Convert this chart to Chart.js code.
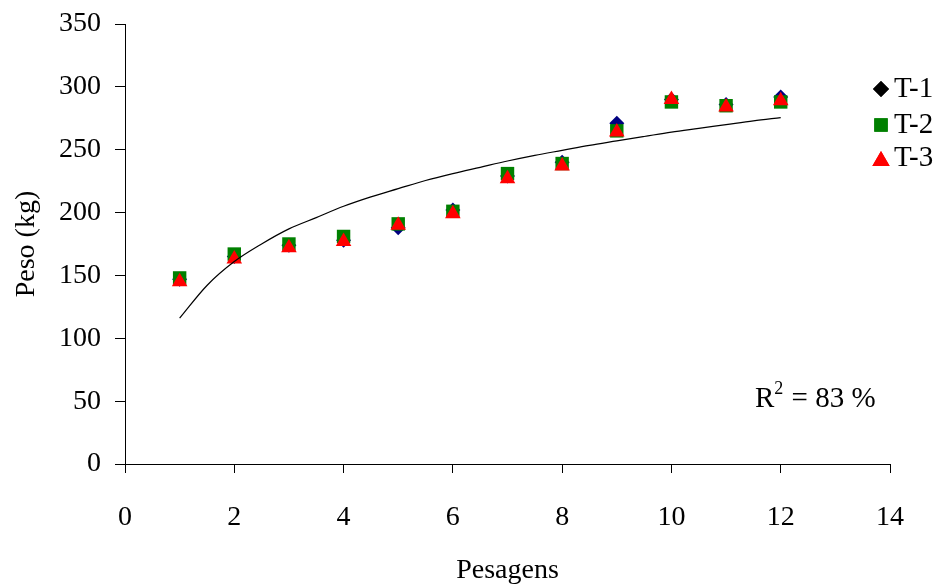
<!DOCTYPE html>
<html>
<head>
<meta charset="utf-8">
<script src="https://cdn.jsdelivr.net/npm/chart.js@4.4.1/dist/chart.umd.min.js"></script>
<style>
  body { margin: 0; background: #fff; }
  #mycanvas { display: block; }
</style>
</head>
<body>
<canvas id="mycanvas" width="947" height="587"></canvas>
<script>
// data
var pesagens = [1, 2, 3, 4, 5, 6, 7, 8, 9, 10, 11, 12];
var t1 = [147, 165, 174, 178, 188, 202, 229, 240, 271, 290, 286, 292];
var t2 = [148, 167, 175, 181, 191, 201, 231, 239, 265, 288, 285, 288];
var t3 = [145, 163, 172, 177, 190, 199, 227, 237, 264, 290, 284, 289];

// log trend line
var trendX = [1, 1.5, 2, 2.5, 3, 3.5, 4, 4.5, 5, 5.5, 6, 6.5, 7, 7.5, 8, 8.5, 9, 9.5, 10, 10.5, 11, 11.5, 12];
var trendY = [116, 142, 161, 175, 187, 196, 205, 212.5, 219, 225.5, 231, 236, 241, 245.5, 249.5, 253.5, 257, 260.5, 264, 267, 270, 273, 275.5];

var r2Text = '83 %';
var FONT = "'Liberation Serif', 'Times New Roman', serif";

function pts(xs, ys) {
    var out = [];
    for (var i in xs) {
        out.push({x: xs[i], y: ys[i]});
    }
    return out;
}

var series = [
    {label: 'T-1', data: t1, color: '#000080', legendColor: '#000000', style: 'rectRot', radius: 7.5, order: 3},
    {label: 'T-2', data: t2, color: '#008000', legendColor: '#008000', style: 'rect', radius: 9.5, order: 2},
    {label: 'T-3', data: t3, color: '#ff0000', legendColor: '#ff0000', style: 'triangle', radius: 9, order: 1}
];

var datasets = [];
for (var i in series) {
    var s = series[i];
    datasets.push({
        label: s.label,
        data: pts(pesagens, s.data),
        showLine: false,
        pointStyle: s.style,
        pointRadius: s.radius,
        pointBackgroundColor: s.color,
        pointBorderColor: s.color,
        pointBorderWidth: 0,
        order: s.order
    });
}
datasets.push({
    label: 'trend',
    data: pts(trendX, trendY),
    showLine: true,
    borderColor: '#000',
    borderWidth: 1.2,
    pointRadius: 0,
    cubicInterpolationMode: 'monotone',
    order: 0
});

// legend at right + R2 note
var extras = {
    id: 'extras',
    afterDraw: function (chart) {
        var ctx = chart.ctx;
        ctx.save();
        ctx.font = '29px ' + FONT;
        ctx.textBaseline = 'middle';
        ctx.textAlign = 'left';
        var ys = [89, 125, 158];
        for (var i in series) {
            var s = series[i];
            ctx.fillStyle = s.legendColor;
            ctx.beginPath();
            Chart.helpers.drawPoint(ctx, {
                pointStyle: s.style,
                radius: s.style == 'rectRot' ? 8 : (s.style == 'rect' ? 9.5 : 10),
                borderWidth: 0
            }, 881, ys[i] + (s.style == 'triangle' ? 3 : 0));
            ctx.fill();
            ctx.fillStyle = '#000';
            ctx.fillText(s.label, 894, ys[i]);
        }
        // R2 = 83 %
        ctx.textBaseline = 'alphabetic';
        ctx.font = '29px ' + FONT;
        ctx.fillText('R', 755, 407);
        var w = ctx.measureText('R').width;
        ctx.font = '18px ' + FONT;
        ctx.fillText('2', 755 + w, 394);
        var w2 = ctx.measureText('2').width;
        ctx.font = '29px ' + FONT;
        ctx.fillText(' = ' + r2Text, 755 + w + w2 + 1, 407);
        ctx.restore();
    }
};

var graphTarget = document.getElementById('mycanvas');
var scatterChart = new Chart(graphTarget, {
    type: 'scatter',
    data: {datasets: datasets},
    options: {
        responsive: false,
        animation: false,
        devicePixelRatio: 1,
        layout: {padding: {left: 0, right: 57, top: 24, bottom: 0}},
        plugins: {
            legend: {display: false},
            tooltip: {enabled: false}
        },
        scales: {
            x: {
                type: 'linear',
                min: 0,
                max: 14,
                afterFit: function (scale) {
                    scale.height = 123;
                    scale.paddingLeft = 0;
                    scale.paddingRight = 0;
                },
                ticks: {stepSize: 2, color: '#000', font: {family: FONT, size: 28}, padding: 28, maxRotation: 0},
                grid: {drawOnChartArea: false, drawTicks: true, tickLength: 9, color: '#000'},
                border: {color: '#000', width: 1},
                title: {display: true, text: 'Pesagens', color: '#000', font: {family: FONT, size: 28}, padding: {top: 0, bottom: 0}}
            },
            y: {
                min: 0,
                max: 350,
                afterFit: function (scale) {
                    scale.width = 125;
                    scale.paddingTop = 0;
                    scale.paddingBottom = 0;
                },
                ticks: {stepSize: 50, color: '#000', font: {family: FONT, size: 28}, padding: 14},
                grid: {drawOnChartArea: false, drawTicks: true, tickLength: 10, color: '#000'},
                border: {color: '#000', width: 1},
                title: {display: true, text: 'Peso (kg)', color: '#000', font: {family: FONT, size: 28}, padding: {top: 10, bottom: 0}}
            }
        }
    },
    plugins: [extras]
});
</script>
</body>
</html>
